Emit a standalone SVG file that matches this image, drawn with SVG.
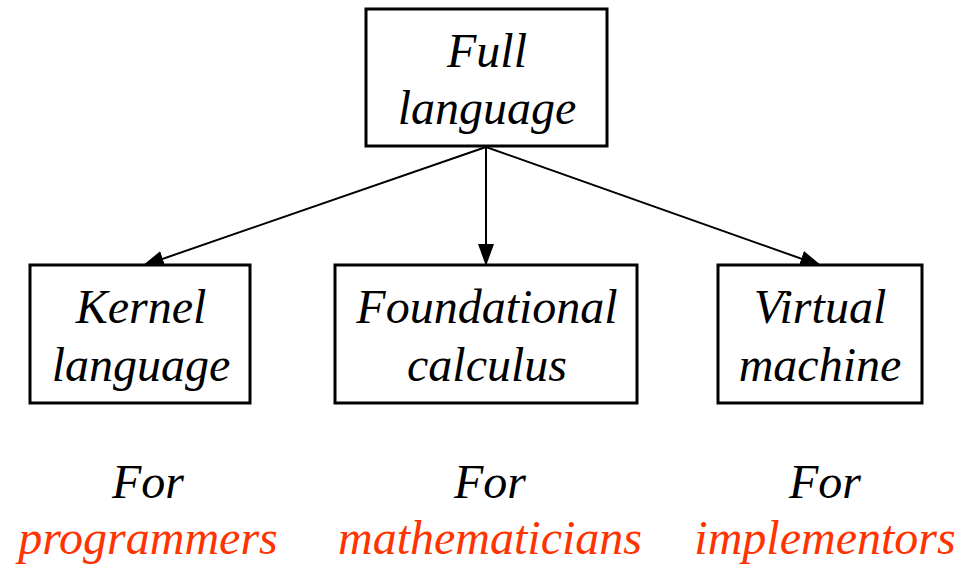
<svg xmlns="http://www.w3.org/2000/svg" width="975" height="565" viewBox="0 0 975 565">
<style>
.box{fill:#fff;stroke:#000;stroke-width:3}
.c{stroke:#000;stroke-width:2;fill:none}
</style>
<defs>
<marker id="ah" viewBox="0 0 22 16" refX="22" refY="8" markerWidth="22" markerHeight="16" markerUnits="userSpaceOnUse" orient="auto">
<path d="M0,0 L22,8 L0,16 z" fill="#000"/>
</marker>
</defs>
<rect width="975" height="565" fill="#fff"/>
<g id="connectors">
<line class="c" x1="486" y1="147" x2="142" y2="266" marker-end="url(#ah)"/>
<line class="c" x1="486" y1="147" x2="486" y2="266" marker-end="url(#ah)"/>
<line class="c" x1="486" y1="147" x2="822" y2="266" marker-end="url(#ah)"/>
</g>
<g font-family="Liberation Serif, Times New Roman, serif" font-style="italic" font-size="48" text-anchor="middle" fill="#000">
<g id="full">
<rect class="box" x="366" y="9" width="241" height="137"/>
<text x="487" y="67">Full</text>
<text x="487" y="124">language</text>
</g>
<g id="kernel">
<rect class="box" x="30" y="265" width="220" height="138"/>
<text x="141" y="323">Kernel</text>
<text x="141" y="381">language</text>
</g>
<g id="foundational">
<rect class="box" x="335" y="265" width="302" height="138"/>
<text x="487" y="323">Foundational</text>
<text x="487" y="381">calculus</text>
</g>
<g id="virtual">
<rect class="box" x="718" y="265" width="204" height="138"/>
<text x="820" y="323">Virtual</text>
<text x="820" y="381">machine</text>
</g>
<g id="labels">
<text x="148" y="498">For</text>
<text x="148" y="554" fill="#ff3300">programmers</text>
<text x="490" y="498">For</text>
<text x="490" y="554" fill="#ff3300">mathematicians</text>
<text x="825" y="498">For</text>
<text x="825" y="554" fill="#ff3300">implementors</text>
</g>
</g>
</svg>
